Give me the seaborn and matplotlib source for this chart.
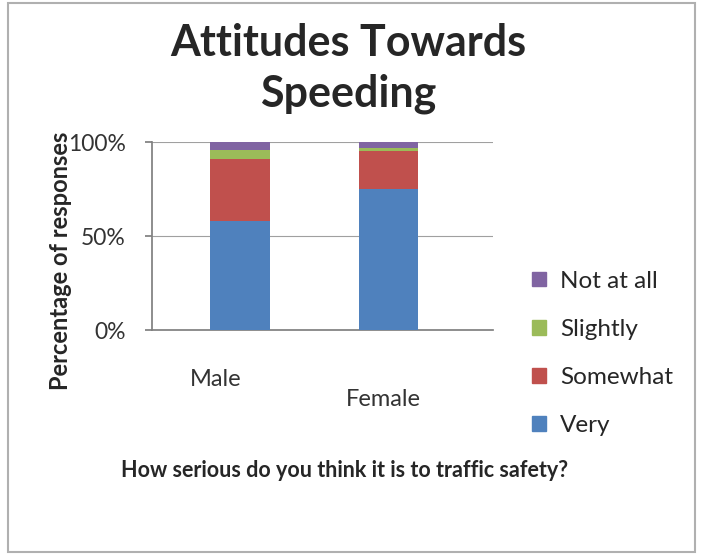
import numpy as np
import pandas as pd
import matplotlib
matplotlib.use("Agg")
import matplotlib.pyplot as plt
import matplotlib.transforms as mtrans
import seaborn as sns
from matplotlib.patches import Rectangle
from matplotlib.ticker import PercentFormatter

# Data (percent of responses)
genders = ["Male", "Female"]
levels = ["Very", "Somewhat", "Slightly", "Not at all"]
very = [58, 75]
somewhat = [33, 20]
slightly = [5, 2]
not_at_all = [4, 3]

colors = {
    "Very": "#4F81BD",
    "Somewhat": "#C0504D",
    "Slightly": "#9BBB59",
    "Not at all": "#8064A2",
}

df = pd.DataFrame({
    "gender": genders,
    "Very": very,
    "Somewhat": somewhat,
    "Slightly": slightly,
    "Not at all": not_at_all,
})

sns.set_theme(style="white")
plt.rcParams["font.family"] = ["Lato", "DejaVu Sans"]

fig = plt.figure(figsize=(7.01, 5.55), dpi=100)
ax = fig.add_axes([0.217, 0.405, 0.486, 0.339])

# stacked bars: draw cumulative totals from the top layer down
cum = df[levels].cumsum(axis=1)
for lvl in reversed(levels):
    sns.barplot(x=df["gender"], y=cum[lvl], color=colors[lvl], width=0.4,
                saturation=1, linewidth=0, ax=ax, zorder=3)

ax.set_xlim(-0.59, 1.7)
ax.set_ylim(0, 100)
ax.set_yticks([0, 50, 100])
ax.yaxis.set_major_formatter(PercentFormatter(decimals=0))
ax.grid(axis="y", color="#a0a0a0", linewidth=0.8, zorder=0)
ax.set_axisbelow(True)
for side in ["top", "right"]:
    ax.spines[side].set_visible(False)
ax.spines["left"].set_color("#808080")
ax.spines["bottom"].set_color("#808080")
ax.tick_params(axis="y", labelsize=16.5, colors="#333333", pad=14, length=5, left=True,
               color="#808080")
ax.tick_params(axis="x", labelsize=17, colors="#333333", pad=28, length=0)

# nudge the category labels, like the perspective view of the original
xlabels = ax.get_xticklabels()
xlabels[0].set_transform(xlabels[0].get_transform() +
                         mtrans.ScaledTranslation(-24 / 100, 0, fig.dpi_scale_trans))
xlabels[1].set_transform(xlabels[1].get_transform() +
                         mtrans.ScaledTranslation(-5 / 100, -20 / 100, fig.dpi_scale_trans))

ax.set_ylabel("Percentage of responses", fontsize=17, fontweight="bold")
ax.yaxis.set_label_coords(-0.235, 0.37)
ax.set_xlabel("How serious do you think it is to traffic safety?", fontsize=15.5,
              fontweight="bold")
ax.xaxis.set_label_coords(0.566, -0.69)

handles = [Rectangle((0, 0), 1, 1, color=colors[l]) for l in reversed(levels)]
fig.legend(handles, list(reversed(levels)), loc="center left",
           bbox_to_anchor=(0.728, 0.363), frameon=False, fontsize=17.5,
           handlelength=0.55, handleheight=0.55, labelspacing=1.12, handletextpad=0.6)

fig.suptitle("Attitudes Towards\nSpeeding", fontsize=31, fontweight="bold",
             y=0.958, x=0.497, linespacing=1.3)

fig.patches.append(Rectangle((0.012, 0.005), 0.98, 0.99, transform=fig.transFigure,
                             fill=False, edgecolor="#b0b0b0", linewidth=1.5))

fig.savefig("out.png", dpi=100)
